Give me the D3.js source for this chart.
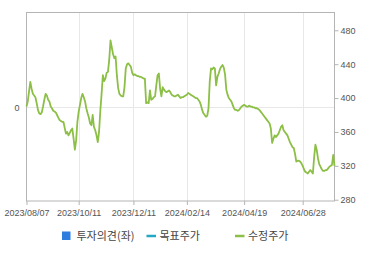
<!DOCTYPE html>
<html>
<head>
<meta charset="utf-8">
<script src="https://cdn.jsdelivr.net/npm/d3@7"></script>
<style>
  body { margin: 0; background: #fff; }
  svg { display: block; font-family: "Liberation Sans", Arial, sans-serif; }
</style>
</head>
<body>
<div id="chart"></div>
<script>
// adjusted close (수정주가), one value per trading day from 2023/08/07
const prices = [
  390, 396, 408, 419, 411, 405, 403, 401, 394, 386,
  382, 381, 383, 390, 398, 405, 403, 398, 396, 390,
  388, 385, 384, 383, 380, 377, 374, 373, 372, 372,
  365, 358, 360, 356, 359, 362, 364, 352, 339, 350,
  372, 384, 392, 400, 405, 401, 396, 388, 382, 377,
  370, 368, 380, 366, 362, 356, 348, 360, 385, 405,
  427, 420, 423, 430, 431, 445, 468, 460, 452, 447,
  449, 427, 412, 405, 403, 402, 402, 413, 435, 440,
  441, 439, 437, 430, 427, 428, 427, 426, 426, 425,
  425, 424, 423, 423, 394, 395, 394, 409, 398, 399,
  401, 402, 415, 427, 429, 411, 402, 413, 410, 408,
  407, 408, 409, 407, 404, 403, 402, 402, 403, 404,
  402, 400, 401, 401, 402, 403, 404, 406, 405, 404,
  403, 402, 401, 400, 400, 398, 396, 392, 386, 382,
  380, 378, 379, 388, 420, 435, 434, 436, 435, 415,
  425, 429, 434, 437, 439, 436, 428, 410, 404, 400,
  398, 396, 392, 388, 386, 386, 385, 386, 388, 390,
  391, 392, 391, 390, 390, 391, 390, 390, 389, 389,
  388, 388, 387, 386, 384, 382, 380, 378, 376, 374,
  372, 370, 364, 347, 352, 356, 354, 356, 358, 362,
  366, 368, 362, 360, 358, 356, 352, 348, 345, 342,
  341, 334, 325, 326, 326, 325, 323, 320, 316, 313,
  312, 311, 313, 315, 313, 311, 330, 345, 339, 329,
  322, 319, 316, 314, 314, 315, 315, 317, 319, 320,
  321, 333, 320
];

// x tick labels and the trading-day index they sit on
const dateLabels = ["2023/08/07", "2023/10/11", "2023/12/11", "2024/02/14", "2024/04/19", "2024/06/28"];
const dateIndex = [0, 41, 84, 126, 171, 217];

const rightTicks = [280, 320, 360, 400, 440, 480];
const leftTicks = [0];

const legendNames = ["투자의견(좌)", "목표주가", "수정주가"];

const width = 370;
const height = 255;
const plot = { left: 26.5, right: 334.5, top: 12.5, bottom: 201 };

const priceColor = "#8cbf45";
const axisColor = "#b4b4b4";
const gridColor = "#e8e8e8";
const textColor = "#555";

const svg = d3.select("#chart").append("svg")
  .attr("width", width)
  .attr("height", height);

const x = d3.scaleLinear()
  .domain([0, prices.length - 1])
  .range([plot.left, plot.right]);

const y = d3.scaleLinear()
  .domain([278.5, 501])
  .range([plot.bottom, plot.top]);

// left axis only carries a single "0" (opinion axis)
const yLeft = d3.scaleLinear()
  .domain([-1, 1])
  .range([plot.bottom + 0.7, plot.top + 0.7]);

// grid
svg.append("g").selectAll("line.v")
  .data(dateIndex.slice(1))
  .join("line")
  .attr("x1", d => Math.round(x(d)) + 0.5)
  .attr("x2", d => Math.round(x(d)) + 0.5)
  .attr("y1", plot.top)
  .attr("y2", plot.bottom)
  .attr("stroke", gridColor);

svg.append("g").selectAll("line.h")
  .data(leftTicks)
  .join("line")
  .attr("x1", plot.left)
  .attr("x2", plot.right)
  .attr("y1", d => Math.round(yLeft(d)) + 0.5)
  .attr("y2", d => Math.round(yLeft(d)) + 0.5)
  .attr("stroke", gridColor);

// frame
svg.append("rect")
  .attr("x", plot.left)
  .attr("y", plot.top)
  .attr("width", plot.right - plot.left)
  .attr("height", plot.bottom - plot.top)
  .attr("fill", "none")
  .attr("stroke", axisColor);

// price line
const line = d3.line()
  .x((d, i) => x(i))
  .y(d => y(d));

svg.append("path")
  .datum(prices)
  .attr("d", line)
  .attr("fill", "none")
  .attr("stroke", priceColor)
  .attr("stroke-width", 1.8)
  .attr("stroke-linejoin", "round");

// right axis
const rightAxis = svg.append("g")
  .attr("transform", `translate(${plot.right},0)`)
  .call(d3.axisRight(y).tickValues(rightTicks).tickSize(4).tickPadding(2));
rightAxis.select(".domain").remove();
rightAxis.selectAll("line").attr("stroke", axisColor);
rightAxis.selectAll("text")
  .attr("fill", textColor)
  .style("font-size", "9px")
  .style("font-family", "Liberation Sans, Arial, sans-serif");

// left axis
const leftAxis = svg.append("g")
  .attr("transform", `translate(${plot.left},0)`)
  .call(d3.axisLeft(yLeft).tickValues(leftTicks).tickFormat(d3.format("d")).tickSize(0).tickPadding(7));
leftAxis.select(".domain").remove();
leftAxis.selectAll("text")
  .attr("fill", textColor)
  .style("font-size", "9px")
  .style("font-family", "Liberation Sans, Arial, sans-serif");

// bottom axis
const bottomAxis = svg.append("g")
  .attr("transform", `translate(0,${plot.bottom})`)
  .call(d3.axisBottom(x)
    .tickValues(dateIndex)
    .tickFormat((d, i) => dateLabels[i])
    .tickSize(4)
    .tickPadding(5));
bottomAxis.select(".domain").remove();
bottomAxis.selectAll("line").attr("stroke", axisColor);
bottomAxis.selectAll("text")
  .attr("fill", textColor)
  .style("font-size", "9px")
  .style("font-family", "Liberation Sans, Arial, sans-serif");

// legend
const legendX = [62, 146.5, 235];
const legendColors = ["#2f7ddf", "#23a8c3", priceColor];
const legend = svg.append("g").selectAll("g")
  .data(legendNames)
  .join("g")
  .attr("transform", (d, i) => `translate(${legendX[i]},236)`);

legend.each(function (d, i) {
  const g = d3.select(this);
  if (i === 0) {
    g.append("rect")
      .attr("x", 0).attr("y", -4.5)
      .attr("width", 8.5).attr("height", 8.5)
      .attr("fill", legendColors[i]);
  } else {
    g.append("line")
      .attr("x1", 0).attr("x2", 9.5)
      .attr("y1", 0).attr("y2", 0)
      .attr("stroke", legendColors[i])
      .attr("stroke-width", 2.5);
  }
  g.append("text")
    .attr("x", i === 0 ? 14.5 : 13)
    .attr("y", 4)
    .attr("fill", "#444")
    .style("font-size", "11px")
    .style("font-family", "'Noto Sans CJK KR', sans-serif")
    .text(d);
});
</script>
</body>
</html>
